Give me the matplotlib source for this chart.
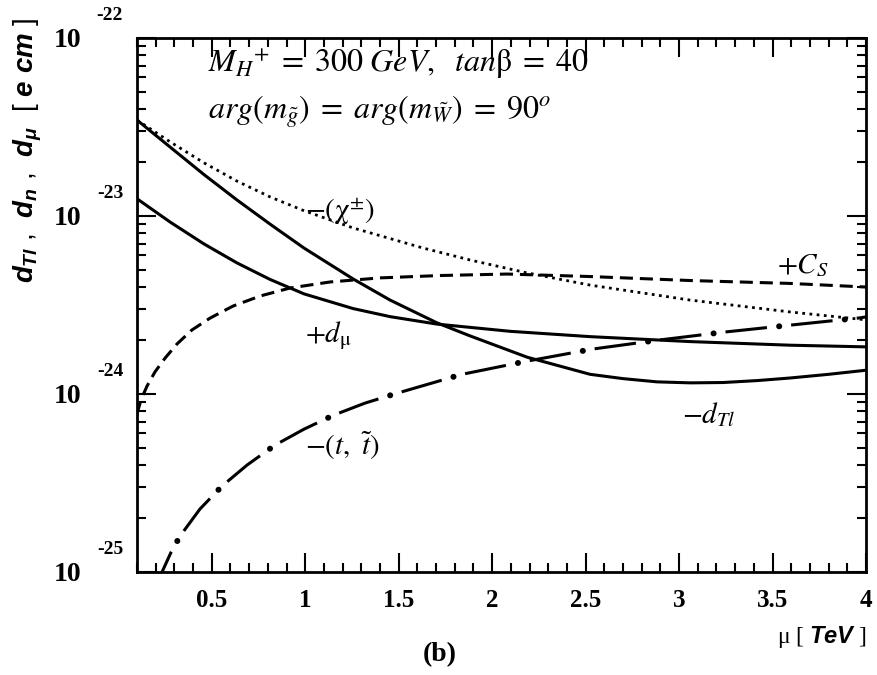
import matplotlib
matplotlib.use('Agg')
import matplotlib.pyplot as plt
from matplotlib.ticker import MultipleLocator, LogLocator, NullFormatter

plt.rcParams['mathtext.fontset'] = 'custom'
plt.rcParams['mathtext.it'] = 'Liberation Sans:bold:italic'
plt.rcParams['mathtext.rm'] = 'Liberation Sans:bold'
plt.rcParams['mathtext.bf'] = 'Liberation Sans:bold'
plt.rcParams['lines.scale_dashes'] = False

# -d_Tl (solid)
mu_dtl = [0.100, 0.277, 0.458, 0.635, 0.812, 0.994, 1.256, 1.454, 1.705, 1.882, 2.187, 2.524, 2.70, 2.882,
          3.06, 3.235, 3.42, 3.594, 3.80, 4.0]
dtl = [3.46e-23, 2.44e-23, 1.71e-23, 1.23e-23, 9.0e-24, 6.6e-24, 4.43e-24, 3.37e-24, 2.51e-24, 2.12e-24,
       1.61e-24, 1.29e-24, 1.22e-24, 1.17e-24, 1.155e-24, 1.16e-24, 1.19e-24, 1.23e-24, 1.29e-24, 1.36e-24]

# +d_mu (solid)
mu_dmu = [0.100, 0.277, 0.458, 0.635, 0.812, 0.994, 1.256, 1.454, 1.705, 2.096, 2.524, 3.059, 3.594, 4.0]
dmu = [1.25e-23, 9.25e-24, 6.97e-24, 5.45e-24, 4.40e-24, 3.65e-24, 3.02e-24, 2.72e-24, 2.47e-24, 2.25e-24,
       2.10e-24, 1.97e-24, 1.88e-24, 1.84e-24]

# -(chi+-) (dotted)
mu_chi = [0.100, 0.277, 0.458, 0.635, 0.812, 0.994, 1.256, 1.630, 1.882, 2.187, 2.524, 3.059, 3.594, 4.0]
chi = [3.46e-23, 2.61e-23, 1.99e-23, 1.57e-23, 1.28e-23, 1.07e-23, 8.57e-24, 6.61e-24, 5.66e-24, 4.79e-24,
       4.09e-24, 3.37e-24, 2.89e-24, 2.61e-24]

# +C_S (dashed)
mu_cs = [0.100, 0.121, 0.154, 0.196, 0.250, 0.314, 0.394, 0.491, 0.614, 0.758, 0.919, 1.133, 1.400, 1.721,
         2.080, 2.524, 3.059, 3.594, 4.0]
cs = [7.73e-25, 9.25e-25, 1.11e-24, 1.33e-24, 1.59e-24, 1.91e-24, 2.29e-24, 2.67e-24, 3.12e-24, 3.55e-24,
      3.94e-24, 4.26e-24, 4.49e-24, 4.63e-24, 4.72e-24, 4.57e-24, 4.34e-24, 4.18e-24, 3.99e-24]

# -(t, t~) (dash-dot)
mu_t = [0.196, 0.234, 0.282, 0.330, 0.437, 0.555, 0.689, 0.838, 0.994, 1.154, 1.320, 1.491, 1.839, 2.187,
        2.540, 2.893, 3.246, 3.599, 3.958, 4.0]
tt = [7.92e-26, 1.0e-25, 1.29e-25, 1.59e-25, 2.26e-25, 3.04e-25, 3.99e-25, 5.16e-25, 6.35e-25, 7.62e-25,
      8.89e-25, 1.01e-24, 1.29e-24, 1.53e-24, 1.79e-24, 2.01e-24, 2.23e-24, 2.44e-24, 2.67e-24, 2.71e-24]

xticks = [0.5, 1, 1.5, 2, 2.5, 3, 3.5, 4]
xticklabels = ['0.5', '1', '1.5', '2', '2.5', '3', '3.5', '4']
ydecades = [1e-22, 1e-23, 1e-24, 1e-25]
yexps = ['-22', '-23', '-24', '-25']

fig = plt.figure(figsize=(8.78, 6.75), dpi=100)
ax = fig.add_axes([137 / 878, 1 - 572 / 675, (866 - 137) / 878, (572 - 38) / 675])
ax.set_yscale('log')
ax.set_xlim(0.1, 4.0)
ax.set_ylim(1e-25, 1e-22)

ax.plot(mu_dtl, dtl, color='black', lw=2.2)
ax.plot(mu_dmu, dmu, color='black', lw=2.2)
ax.plot(mu_chi, chi, color='black', lw=2.0, linestyle=(0, (2, 3.2)))
ax.plot(mu_cs, cs, color='black', lw=2.2, linestyle=(0, (9.4, 5)))
ax.plot(mu_t, tt, color='black', lw=2.2, linestyle=(0, (30, 17.5)), dash_capstyle='butt')
ax.plot(mu_t, tt, color='black', lw=4.3, linestyle=(8.7, (0.1, 47.4)), dash_capstyle='round')

for sp in ax.spines.values():
    sp.set_linewidth(2.0)

ax.xaxis.set_minor_locator(MultipleLocator(0.1))
ax.set_xticks(xticks, labels=xticklabels, fontsize=18, fontweight='bold', family='Liberation Serif')
ax.yaxis.set_major_locator(LogLocator(base=10, numticks=10))
ax.yaxis.set_minor_locator(LogLocator(base=10, subs=range(2, 10), numticks=20))
ax.yaxis.set_major_formatter(NullFormatter())
ax.yaxis.set_minor_formatter(NullFormatter())
ax.tick_params(which='both', direction='in', top=True, right=True, width=1.5)
ax.tick_params(which='major', length=14, pad=12)
ax.tick_params(which='minor', length=6.5)

for v, e in zip(ydecades, yexps):
    ax.annotate('10', xy=(0, v), xycoords=('axes fraction', 'data'), xytext=(-50, -2),
                textcoords='offset points', ha='center', va='center', fontsize=20,
                fontweight='bold', family='Liberation Serif', annotation_clip=False)
    ax.annotate(e, xy=(0, v), xycoords=('axes fraction', 'data'), xytext=(-19.5, 16),
                textcoords='offset points', ha='center', va='center', fontsize=14,
                fontweight='bold', family='Liberation Serif', annotation_clip=False)

txt = dict(transform=ax.transAxes, fontsize=21, ha='left', va='baseline', math_fontfamily='stix')
head = dict(txt, fontsize=23)
ax.text(0.0974, 0.936, r'$M_{H}{}^{+}\;=\;300\ GeV,\ \ tan\mathrm{\beta}\;=\;40$', **head)
ax.text(0.0974, 0.848, r'$arg(m_{\tilde{g}})\;=\;arg(m_{\tilde{W}})\;=\;90^{o}$', **head)
ax.text(0.2305, 0.661, r'$-(\mathrm{\chi}^{\pm})$', **txt)
ax.text(0.878, 0.560, r'$+C_{S}$', **txt)
ax.text(0.2305, 0.431, r'$+d_{\mathrm{\mu}}$', **txt)
ax.text(0.2305, 0.219, r'$-(t,\ \tilde{t})$', **txt)
ax.text(0.7476, 0.279, r'$-d_{Tl}$', **txt)

fig.text(28 / 878, 1 - 150 / 675, r'$d_{Tl}$ ,  $d_{n}$ ,  $d_{\mu}$  [ $e\ cm$ ]', rotation=90,
         ha='center', va='center', fontsize=20, family='Liberation Sans', math_fontfamily='custom')
fig.text(822 / 878, 1 - 637 / 675, 'μ [ $TeV$ ]', ha='center', va='center', fontsize=17,
         family='Liberation Serif', math_fontfamily='custom')
fig.text(440 / 878, 1 - 655 / 675, '(b)', ha='center', va='center', fontsize=20, fontweight='bold',
         family='Liberation Serif')

fig.savefig('out.png', dpi=100)
